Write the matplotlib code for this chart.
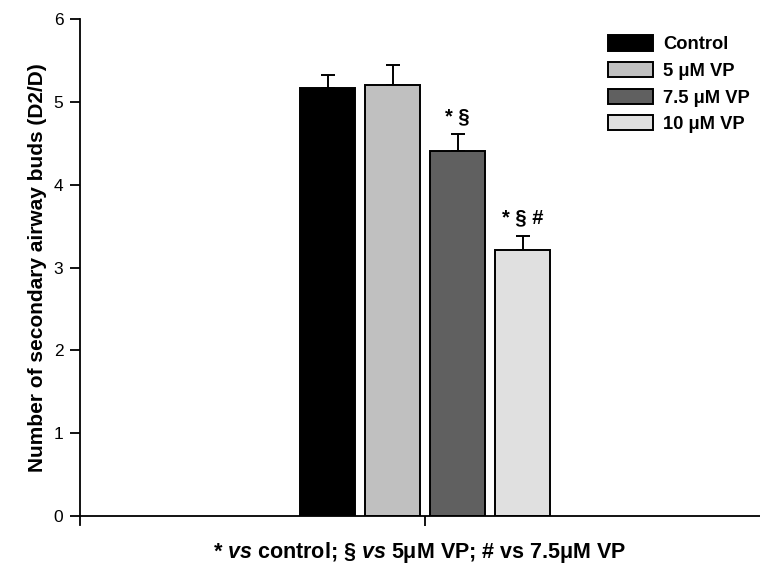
import matplotlib.pyplot as plt
import numpy as np

plt.rcParams['font.family'] = ['Liberation Sans', 'DejaVu Sans']
plt.rcParams['mathtext.fontset'] = 'custom'
plt.rcParams['mathtext.it'] = 'Liberation Sans:italic:bold'
plt.rcParams['mathtext.rm'] = 'Liberation Sans:bold'

# данные
groups = ['Control', '5 \u03bcM VP', '7.5 \u03bcM VP', '10 \u03bcM VP']
means = [5.17, 5.20, 4.41, 3.21]
errors = [0.15, 0.25, 0.20, 0.17]
colors = ['#000000', '#c0c0c0', '#606060', '#e0e0e0']
marks = ['', '', '* \u00a7', '* \u00a7 #']

fig = plt.figure(figsize=(7.6, 5.67), dpi=100)
ax = fig.add_axes([80 / 760, 51 / 567, 680 / 760, 497 / 567])

x = np.arange(len(groups))
ax.bar(x, means, width=0.85, color=colors, edgecolor='black', linewidth=1.4,
       label=groups, zorder=2)
ax.errorbar(x, means, yerr=[np.zeros(len(errors)), errors], fmt='none',
            ecolor='black', elinewidth=1.4, capsize=5, capthick=1.4, zorder=1)

for xi, m, e, t in zip(x, means, errors, marks):
    if t:
        ax.text(xi, m + e + 0.1, t, ha='center', va='bottom',
                fontsize=14.5, fontweight='bold')

ax.set_xlim(-3.81, 6.65)
ax.set_ylim(0, 6)
ax.set_xticks([1.5])
ax.set_xticklabels([''])
ax.set_yticks(range(7))
ax.tick_params(axis='y', direction='out', length=7, width=1.3, labelsize=12.5, pad=5)
ax.tick_params(axis='x', direction='out', length=7, width=1.3)
for s in ['top', 'right']:
    ax.spines[s].set_visible(False)
for s in ['left', 'bottom']:
    ax.spines[s].set_linewidth(1.3)
ax.spines['left'].set_bounds(-0.11, 6)

ax.set_ylabel('Number of secondary airway buds (D2/D)', fontsize=15,
              fontweight='bold', labelpad=5)
ax.set_xlabel('* $\\mathit{vs}$ control; \u00a7 $\\mathit{vs}$ 5\u03bcM VP; # vs 7.5\u03bcM VP',
              fontsize=15.5, fontweight='bold', labelpad=7)

ax.legend(loc='upper left', bbox_to_anchor=(0.752, 1.0), frameon=False,
          prop={'weight': 'bold', 'size': 13.2},
          handlelength=2.45, handleheight=0.9, labelspacing=0.47, handletextpad=0.55)

fig.savefig('out.png', dpi=100)
